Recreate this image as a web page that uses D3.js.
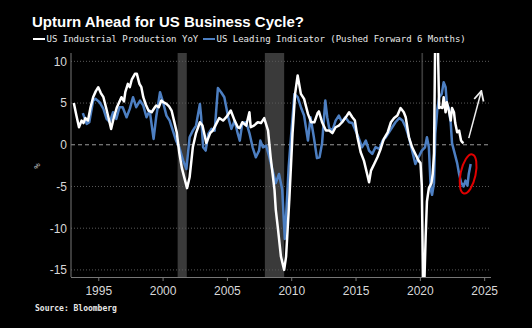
<!DOCTYPE html>
<html>
<head>
<meta charset="utf-8">
<script src="https://cdn.jsdelivr.net/npm/d3@7"></script>
<style>
  body { margin: 0; background: #000; }
  svg { display: block; }
</style>
</head>
<body>
<div id="chart"></div>
<script>
// US Industrial Production YoY (decimal year, %)
var ipSeries = [
  [1993.1,5.0],[1993.3,3.5],[1993.5,2.1],[1993.7,2.9],[1993.85,2.6],[1994.0,3.2],[1994.2,2.9],
  [1994.4,4.5],[1994.6,5.7],[1994.8,6.4],[1995.0,6.9],[1995.2,6.2],[1995.4,5.7],[1995.6,4.5],
  [1995.8,3.2],[1996.0,1.9],[1996.2,3.2],[1996.45,4.5],[1996.6,5.0],[1996.8,5.7],[1997.0,5.2],
  [1997.1,6.3],[1997.3,7.3],[1997.45,6.9],[1997.6,7.8],[1997.85,8.5],[1998.0,8.5],[1998.2,7.3],
  [1998.35,6.9],[1998.5,5.7],[1998.7,4.8],[1998.9,4.1],[1999.15,3.9],[1999.4,4.5],[1999.5,4.7],
  [1999.7,4.5],[1999.9,5.3],[2000.05,5.1],[2000.3,4.9],[2000.5,4.6],[2000.7,4.1],[2000.9,2.8],
  [2001.1,1.5],[2001.3,-1.0],[2001.5,-2.8],[2001.7,-4.0],[2001.9,-5.2],[2002.1,-3.9],[2002.35,-0.3],
  [2002.6,1.4],[2002.9,2.7],[2003.1,2.3],[2003.4,0.2],[2003.7,1.4],[2003.9,1.7],[2004.2,2.6],
  [2004.4,3.2],[2004.7,2.9],[2004.95,3.3],[2005.3,4.1],[2005.6,2.9],[2005.85,2.1],[2006.0,2.0],
  [2006.2,2.7],[2006.5,2.3],[2006.75,3.9],[2006.85,2.1],[2007.1,2.3],[2007.4,2.7],[2007.65,2.6],
  [2007.9,3.2],[2008.2,1.7],[2008.4,-1.5],[2008.7,-5.4],[2008.8,-7.8],[2008.95,-9.8],[2009.2,-13.4],
  [2009.45,-15.0],[2009.6,-13.4],[2009.85,-6.6],[2010.1,1.3],[2010.3,6.1],[2010.5,8.3],[2010.75,6.1],
  [2011.0,5.5],[2011.3,3.7],[2011.55,2.7],[2011.8,2.7],[2012.05,3.8],[2012.15,4.0],[2012.4,2.7],
  [2012.7,1.7],[2012.95,1.7],[2013.2,1.4],[2013.45,2.1],[2013.7,2.3],[2013.95,2.7],[2014.2,3.2],
  [2014.5,3.9],[2014.75,3.3],[2014.95,2.9],[2015.15,0.9],[2015.4,-0.9],[2015.65,-1.9],[2015.9,-3.5],
  [2016.05,-4.5],[2016.2,-3.1],[2016.45,-2.3],[2016.7,-1.5],[2016.95,-0.5],[2017.2,0.7],[2017.5,1.5],
  [2017.75,2.7],[2018.0,3.2],[2018.25,3.5],[2018.5,4.4],[2018.75,3.9],[2018.9,3.3],[2019.15,0.9],
  [2019.4,-0.3],[2019.65,-1.1],[2019.9,-1.9],[2020.05,-2.2],[2020.15,-4.9],[2020.25,-16.5],
  [2020.35,-16.5],[2020.45,-11.0],[2020.55,-6.8],[2020.7,-5.2],[2020.9,-4.6],[2021.0,-3.5],
  [2021.1,-1.0],[2021.2,14.0],[2021.3,16.5],[2021.4,12.0],[2021.5,4.4],[2021.6,4.5],[2021.75,4.4],
  [2021.85,5.7],[2022.0,3.9],[2022.1,5.1],[2022.25,4.1],[2022.4,2.9],[2022.5,4.4],[2022.65,3.9],
  [2022.75,2.6],[2022.9,1.5],[2023.05,1.7],[2023.2,0.5],[2023.3,0.3],[2023.4,0.2]
];

// US Leading Indicator, pushed forward 6 months (decimal year, %)
var leiSeries = [
  [1993.8,3.8],[1994.1,2.5],[1994.3,2.7],[1994.6,5.3],[1994.8,5.5],[1995.1,5.1],[1995.4,4.3],
  [1995.65,3.1],[1995.9,2.7],[1996.15,3.9],[1996.4,3.1],[1996.65,4.5],[1996.9,4.5],[1997.2,3.3],
  [1997.45,4.3],[1997.7,5.7],[1997.95,4.5],[1998.25,5.3],[1998.5,4.7],[1998.75,3.3],[1999.0,4.1],
  [1999.3,0.7],[1999.5,3.3],[1999.8,6.3],[2000.0,5.3],[2000.3,3.5],[2000.55,2.9],[2000.8,1.7],
  [2001.05,0.5],[2001.3,-0.3],[2001.6,-1.9],[2001.85,-2.9],[2002.1,0.9],[2002.35,1.7],[2002.6,2.3],
  [2002.9,4.9],[2003.0,3.3],[2003.15,-0.3],[2003.35,-0.7],[2003.55,1.3],[2003.8,1.9],[2004.05,1.7],
  [2004.3,6.8],[2004.55,6.3],[2004.8,5.7],[2005.1,3.3],[2005.35,1.9],[2005.6,2.9],[2005.85,1.3],
  [2006.0,0.5],[2006.2,2.6],[2006.5,2.7],[2006.75,1.4],[2007.0,-0.3],[2007.25,-1.5],[2007.5,-0.7],
  [2007.6,0.5],[2007.8,-0.3],[2008.05,-0.1],[2008.3,-1.5],[2008.55,-3.1],[2008.8,-4.6],[2009.05,-3.5],
  [2009.3,-5.4],[2009.5,-11.3],[2009.6,-8.6],[2009.8,-2.7],[2010.0,1.3],[2010.25,6.1],[2010.5,5.7],
  [2010.75,4.5],[2011.0,3.5],[2011.3,0.5],[2011.5,3.3],[2011.75,1.0],[2012.0,-1.6],[2012.2,-1.5],
  [2012.4,0.2],[2012.65,5.3],[2012.8,3.3],[2012.95,2.0],[2013.2,1.7],[2013.45,2.9],[2013.7,3.5],
  [2013.95,2.7],[2014.2,3.3],[2014.5,2.7],[2014.75,2.6],[2015.0,1.7],[2015.25,0.8],[2015.5,-0.3],
  [2015.8,0.5],[2016.05,-0.7],[2016.3,-1.1],[2016.55,-0.3],[2016.85,-0.5],[2017.1,0.5],[2017.35,0.9],
  [2017.6,1.5],[2017.85,2.1],[2018.1,2.7],[2018.4,3.2],[2018.65,2.9],[2018.9,2.1],[2019.15,0.9],
  [2019.4,-0.7],[2019.65,-2.3],[2019.9,-1.5],[2020.15,-0.7],[2020.4,-0.3],[2020.55,0.9],[2020.7,-0.3],
  [2020.85,-5.4],[2020.95,-6.0],[2021.1,-4.6],[2021.2,1.3],[2021.35,4.1],[2021.5,5.7],[2021.7,6.1],
  [2021.85,7.5],[2022.0,6.9],[2022.1,4.9],[2022.25,4.4],[2022.4,2.6],[2022.5,0.2],[2022.65,-0.7],
  [2022.9,-2.2],[2023.05,-3.5],[2023.2,-4.5],[2023.4,-5.0],[2023.55,-4.3],[2023.7,-4.9],
  [2023.8,-3.5],[2023.95,-2.3]
];

// recession periods (start, end)
var recessions = [[2001.17, 2001.88], [2007.95, 2009.45], [2020.12, 2020.25]];

var yTicks = [10, 5, 0, -5, -10, -15];
var xTicks = [1995, 2000, 2005, 2010, 2015, 2020, 2025];

var title = "Upturn Ahead for US Business Cycle?";
var legendLabels = ["US Industrial Production YoY", "US Leading Indicator (Pushed Forward 6 Months)"];
var source = "Source: Bloomberg";

// annotations: arrow from/to and ellipse center (data coords)
var arrowPts = [[2023.8, 0.8], [2024.78, 6.45]];
var ellipseCenter = [2023.75, -3.5];

var W = 532, H = 328;
var plot = {left: 71, right: 491, top: 53, bottom: 277};

var x = d3.scaleLinear().domain([1992.88, 2025.53]).range([plot.left, plot.right]);
var y = d3.scaleLinear().domain([-15.85, 11.0]).range([plot.bottom, plot.top]);

var svg = d3.select("#chart").append("svg").attr("width", W).attr("height", H)
  .style("background", "#000");

svg.append("defs").append("clipPath").attr("id", "clip")
  .append("rect").attr("x", plot.left).attr("y", plot.top)
  .attr("width", plot.right - plot.left).attr("height", plot.bottom - plot.top);

var marker = svg.select("defs").append("marker")
  .attr("id", "arrowhead").attr("viewBox", "0 0 10 10")
  .attr("refX", 9).attr("refY", 5)
  .attr("markerWidth", 8).attr("markerHeight", 8)
  .attr("orient", "auto");
marker.append("path").attr("d", "M1,1 L9,5 L1,9").attr("fill", "none")
  .attr("stroke", "#eee").attr("stroke-width", 1.5);

// recession shading
svg.append("g").selectAll("rect").data(recessions).enter().append("rect")
  .attr("x", function(d) { return x(d[0]); })
  .attr("width", function(d) { return x(d[1]) - x(d[0]); })
  .attr("y", plot.top)
  .attr("height", plot.bottom - plot.top)
  .attr("fill", "#3a3a3a");

// gridlines
svg.append("g").selectAll("line").data(yTicks).enter().append("line")
  .attr("x1", plot.left).attr("x2", plot.right)
  .attr("y1", function(d) { return y(d); }).attr("y2", function(d) { return y(d); })
  .attr("stroke", function(d) { return d === 0 ? "#9a9a9a" : "#5a5a5a"; })
  .attr("stroke-width", 1)
  .attr("stroke-dasharray", function(d) { return d === 0 ? "4,3" : "1,2"; });

// y labels
svg.append("g").selectAll("text").data(yTicks).enter().append("text")
  .attr("x", 67).attr("y", function(d) { return y(d); })
  .attr("dy", "0.36em")
  .attr("text-anchor", "end")
  .attr("fill", "#d8d8d8")
  .style("font", "12px 'Liberation Sans', Arial, sans-serif")
  .text(function(d) { return d; });

// axes lines
svg.append("line").attr("x1", plot.left).attr("x2", plot.left)
  .attr("y1", plot.top).attr("y2", plot.bottom).attr("stroke", "#777");

var xAxis = d3.axisBottom(x).tickValues(xTicks).tickSize(4).tickFormat(d3.format("d"));
var gx = svg.append("g").attr("transform", "translate(0," + plot.bottom + ")").call(xAxis);
gx.select(".domain").attr("stroke", "#777").attr("d", "M" + plot.left + ",0.5H" + plot.right);
gx.selectAll(".tick line").attr("stroke", "#777");
gx.selectAll(".tick text").attr("fill", "#d8d8d8").attr("y", 9)
  .style("font", "12px 'Liberation Sans', Arial, sans-serif");

// % label
svg.append("text")
  .attr("transform", "translate(40,166) rotate(-90)")
  .attr("text-anchor", "middle")
  .attr("fill", "#bbb")
  .style("font", "9px 'DejaVu Sans Mono', monospace")
  .text("%");

// lines
var line = d3.line().x(function(d) { return x(d[0]); }).y(function(d) { return y(d[1]); });
var lines = svg.append("g").attr("clip-path", "url(#clip)");
lines.append("path").datum(leiSeries).attr("d", line)
  .attr("fill", "none").attr("stroke", "#4d7fc2").attr("stroke-width", 2.5)
  .attr("stroke-linejoin", "round");
lines.append("path").datum(ipSeries).attr("d", line)
  .attr("fill", "none").attr("stroke", "#ffffff").attr("stroke-width", 2.5)
  .attr("stroke-linejoin", "round");

// annotations
svg.append("line")
  .attr("x1", x(arrowPts[0][0])).attr("y1", y(arrowPts[0][1]))
  .attr("x2", x(arrowPts[1][0])).attr("y2", y(arrowPts[1][1]))
  .attr("stroke", "#eee").attr("stroke-width", 1.5)
  .attr("marker-end", "url(#arrowhead)");

svg.append("ellipse")
  .attr("transform", "translate(" + x(ellipseCenter[0]) + "," + y(ellipseCenter[1]) + ") rotate(12)")
  .attr("rx", 7.5).attr("ry", 20)
  .attr("fill", "none").attr("stroke", "#e00000").attr("stroke-width", 2);

// title
svg.append("text").attr("x", 32).attr("y", 27)
  .attr("fill", "#fff")
  .style("font", "bold 15px 'Liberation Sans', Arial, sans-serif")
  .text(title);

// legend
var legendColors = ["#ffffff", "#4d7fc2"];
var legendX = [33, 203];
var lg = svg.append("g").selectAll("g").data(legendLabels).enter().append("g")
  .attr("transform", function(d, i) { return "translate(" + legendX[i] + ",39)"; });
lg.append("line").attr("x1", 0).attr("x2", 12).attr("y1", 0).attr("y2", 0)
  .attr("stroke", function(d, i) { return legendColors[i]; }).attr("stroke-width", 2);
lg.append("text").attr("x", 13.5).attr("dy", "0.35em")
  .attr("fill", "#e8e8e8")
  .style("font", "9px 'DejaVu Sans Mono', monospace")
  .text(function(d) { return d; });

// source
svg.append("text").attr("x", 35).attr("y", 311)
  .attr("fill", "#e8e8e8")
  .style("font", "bold 8px 'DejaVu Sans Mono', monospace")
  .text(source);
</script>
</body>
</html>
